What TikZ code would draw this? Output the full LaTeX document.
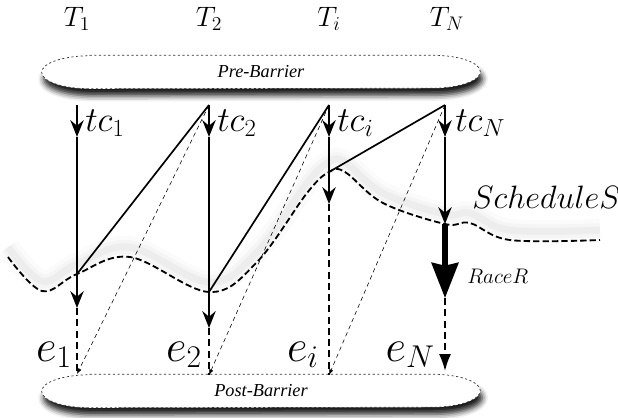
\documentclass[tikz,border=0pt]{standalone}
\usepackage{fix-cm}
\usepackage{fontspec}
\newfontfamily\barfont{Liberation Serif}
\usepackage{xcolor}
\definecolor{cInk}{HTML}{000000}
\definecolor{cEdge}{HTML}{333333}
\definecolor{cGlow}{HTML}{BFBFBF}
\usepackage{tikz}
\usetikzlibrary{arrows.meta,calc,backgrounds,shadows.blur}
\tikzset{
  barrier-text/.style={minimum width=10.95cm,minimum height=0.825cm,inner sep=0pt,
    font=\barfont\itshape\fontsize{13}{15}\selectfont},
  barrier-edge/.style={draw=cEdge,line width=0.5pt,dash pattern=on 1.5pt off 1.8pt,
    fill=white,blur shadow={shadow xshift=1.5pt,shadow yshift=-5pt,
    shadow blur radius=4pt,shadow opacity=90}},
  label-T/.style={font=\fontsize{20}{24}\selectfont,inner sep=0pt},
  label-tc/.style={font=\fontsize{25}{29}\selectfont,inner sep=0pt,anchor=base west},
  label-e/.style={font=\fontsize{32}{36}\selectfont,inner sep=0pt,anchor=base east},
  label-sched/.style={font=\fontsize{23}{26}\selectfont,inner sep=0pt,anchor=base west},
  label-race/.style={font=\fontsize{15}{18}\selectfont,inner sep=0pt,anchor=base west},
  % pointes : fleche fine (tc), fleche epaisse (course), petite fleche (indice)
  arrow/.style={-{Stealth[length=12pt,width=9.5pt,inset=4pt]},line width=1.2pt,draw=cInk},
  arrow-race/.style={-{Stealth[length=25pt,width=19pt,inset=2pt]},line width=3.6pt,draw=cInk},
  arrow-end/.style={-{Latex[length=12pt,width=8.5pt]},line width=1.2pt,
    dash pattern=on 5pt off 3pt,draw=cInk},
  arrow-hint/.style={-{Latex[length=4pt,width=3pt]},line width=0.4pt,
    dash pattern=on 3pt off 2.5pt,draw=cInk},
  line-dash/.style={line width=1.2pt,dash pattern=on 5pt off 3pt,draw=cInk},
  link/.style={line width=1.2pt,draw=cInk},
  sched-line/.style={line width=1.3pt,dash pattern=on 4.5pt off 2.2pt,draw=cInk,
    preaction={draw=cGlow,draw opacity=0.06,line width=16pt,solid,transform canvas={yshift=7pt}},
    preaction={draw=cGlow,draw opacity=0.1,line width=10pt,solid,transform canvas={yshift=7pt}},
    preaction={draw=cGlow,draw opacity=0.15,line width=5pt,solid,transform canvas={yshift=7pt}}},
}

\begin{document}
\begin{tikzpicture}[x=0.025cm,y=-0.025cm]
  \useasboundingbox (0,0) rectangle (618,417);

  % barrieres
  \node[barrier-text] (pre)  at (261,72)  {Pre-Barrier};
  \node[barrier-text] (post) at (261,391) {Post-Barrier};
  \begin{scope}[on background layer]
    \draw[barrier-edge] ([xshift=1.2cm]pre.north west) -- ([xshift=-1.2cm]pre.north east)
      arc[start angle=90,end angle=-90,x radius=1.2cm,y radius=0.4125cm]
      -- ([xshift=1.2cm]pre.south west)
      arc[start angle=270,end angle=90,x radius=1.2cm,y radius=0.4125cm] -- cycle;
    \draw[barrier-edge] ([xshift=1.2cm]post.north west) -- ([xshift=-1.2cm]post.north east)
      arc[start angle=90,end angle=-90,x radius=1.2cm,y radius=0.4125cm]
      -- ([xshift=1.2cm]post.south west)
      arc[start angle=270,end angle=90,x radius=1.2cm,y radius=0.4125cm] -- cycle;
  \end{scope}

  \node[label-T] (lT1) at (77,19)  {$T_1$};
  \node[label-T] (lT2) at (209,19) {$T_2$};
  \node[label-T] (lTi) at (329,19) {$T_i$};
  \node[label-T] (lTN) at (447,19) {$T_N$};

  % points des colonnes
  \coordinate (t1) at (77,105);  \coordinate (t2) at (209,105);
  \coordinate (t3) at (329,105); \coordinate (t4) at (445,105);
  \coordinate (a1) at (77,137);  \coordinate (a2) at (209,137);
  \coordinate (a3) at (329,137); \coordinate (a4) at (445,137);
  \coordinate (s1) at (77,274);  \coordinate (s2) at (209,292);
  \coordinate (s3) at (329,172); \coordinate (s4) at (445,224);
  \coordinate (m1) at (77,308);  \coordinate (m2) at (209,328);
  \coordinate (m3) at (329,204); \coordinate (r4) at (445,298);
  \coordinate (b1) at (77,374);  \coordinate (b2) at (209,375);
  \coordinate (b3) at (329,375); \coordinate (b4) at (445,371);

  % ordonnancement S
  \draw[sched-line] plot[smooth,tension=0.6] coordinates {(8,257) (42,291) (s1)
    (130,257) (s2) (257,262) (307,193) (s3) (345,172) (383,203) (s4) (470,223)
    (510,240) (600,240)};

  \draw[arrow] (t1) -- (a1);
  \draw[arrow] (a1) -- (m1);
  \draw[line-dash] (m1) -- (b1);
  \draw[arrow] (t2) -- (a2);
  \draw[arrow] (a2) -- (m2);
  \draw[line-dash] (m2) -- (b2);
  \draw[arrow] (t3) -- (a3);
  \draw[arrow] (a3) -- (m3);
  \draw[line-dash] (m3) -- (b3);
  \draw[arrow] (t4) -- (a4);
  \draw[arrow] (a4) -- (s4);
  \draw[arrow-race] (s4) -- (r4);
  \draw[arrow-end] (r4) -- (b4);

  \draw[link] (s1) -- (t2);
  \draw[link] (s2) -- (t3);
  \draw[link] (s3) -- (t4);
  \draw[arrow-hint] (t2) -- (b1);
  \draw[arrow-hint] (t3) -- (b2);
  \draw[arrow-hint] (t4) -- (b3);

  \node[label-tc] (ltc1) at (85,131)  {$tc_1$};
  \node[label-tc] (ltc2) at (217,131) {$tc_2$};
  \node[label-tc] (ltci) at (337,131) {$tc_i$};
  \node[label-tc] (ltcN) at (455,131) {$tc_N$};
  \node[label-e] (le1) at (72,361)  {$e_1$};
  \node[label-e] (le2) at (202,361) {$e_2$};
  \node[label-e] (lei) at (319,361) {$e_i$};
  \node[label-e] (leN) at (435,361) {$e_N$};
  \node[label-sched] (lsched) at (472,208) {$ScheduleS$};
  \node[label-race] (lrace) at (467,283) {$RaceR$};
\end{tikzpicture}
\end{document}
